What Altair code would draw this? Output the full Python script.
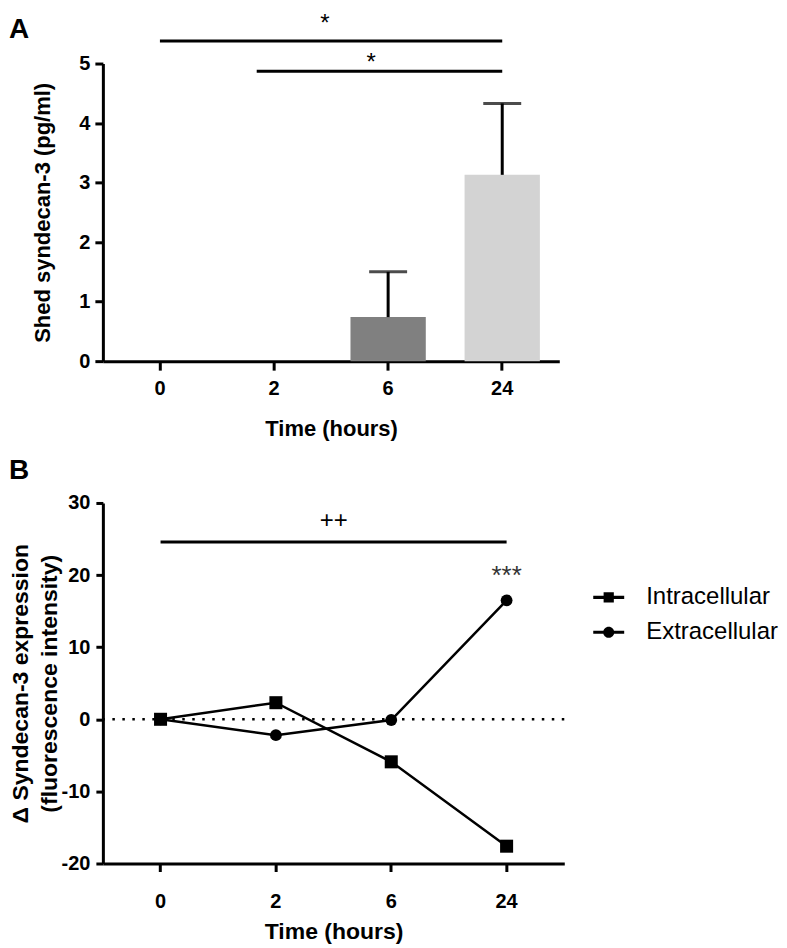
import altair as alt
import pandas as pd

FONT = "Liberation Sans"

# ---------------- data ----------------
times = ["0", "2", "6", "24"]

# Panel A: shed syndecan-3 (pg/ml), mean and mean+SD
shed_mean = [0.0, 0.0, 0.74, 3.13]
shed_upper = [0.0, 0.0, 1.50, 4.33]
bar_colors = ["#808080", "#808080", "#808080", "#d3d3d3"]

# Panel A significance brackets
sigA_start = ["0", "2"]
sigA_end = ["24", "24"]
sigA_y = [5.38, 4.87]
sigA_star_y = [5.87, 5.21]

# Panel B: delta syndecan-3 expression
series = ["Intracellular", "Extracellular"]
intra = [0.0, 2.3, -5.9, -17.6]
extra = [0.0, -2.2, -0.1, 16.5]

sigB_y = 24.6
sigB_plus_y = 26.5
sigB_star_y = 18.7

# ---------------- panel A ----------------
dfA = pd.DataFrame({"time": times, "mean": shed_mean, "upper": shed_upper})
dfA_err = dfA[dfA["upper"] > 0]

ytitleA = "Shed syndecan-3 (pg/ml)"
xA = alt.X("time:N", sort=times,
           scale=alt.Scale(domain=times, paddingInner=0.34, paddingOuter=0.17),
           axis=alt.Axis(title="Time (hours)", labelAngle=0, tickSize=9,
                         labelPadding=8, titlePadding=20))
yscaleA = alt.Scale(domain=[0, 5], nice=False)
yaxisA = alt.Axis(values=[0, 1, 2, 3, 4, 5], labelExpr="'' + datum.value",
                  tickSize=8, labelPadding=5, titlePadding=24)

bars = alt.Chart(dfA).mark_bar().encode(
    x=xA,
    y=alt.Y("mean:Q", scale=yscaleA, axis=yaxisA, title=ytitleA),
    color=alt.Color("time:N", scale=alt.Scale(domain=times, range=bar_colors),
                    legend=None),
)
err = alt.Chart(dfA_err).mark_rule(strokeWidth=3, color="black").encode(
    x=alt.X("time:N", sort=times),
    y=alt.Y("mean:Q", title=ytitleA),
    y2="upper:Q",
)
caps = alt.Chart(dfA_err).mark_tick(thickness=3, size=38, color="black").encode(
    x=alt.X("time:N", sort=times),
    y=alt.Y("upper:Q", title=ytitleA),
)

sigA = pd.DataFrame({"start": sigA_start, "end": sigA_end, "y": sigA_y,
                     "sy": sigA_star_y, "label": ["*", "*"]})
ruleA1 = alt.Chart(sigA.iloc[[0]]).mark_rule(strokeWidth=3, color="black").encode(
    x=alt.X("start:N", sort=times), x2="end:N", y=alt.Y("y:Q", title=ytitleA))
ruleA2 = alt.Chart(sigA.iloc[[1]]).mark_rule(strokeWidth=3, color="black").encode(
    x=alt.X("start:N", sort=times, bandPosition=0.27), x2="end:N",
    y=alt.Y("y:Q", title=ytitleA))
starA1 = alt.Chart(sigA.iloc[[0]].assign(pos="2")).mark_text(
    fontSize=24, font=FONT, baseline="top", dx=51, color="black").encode(
    x=alt.X("pos:N", sort=times), y=alt.Y("sy:Q", title=ytitleA), text="label:N")
starA2 = alt.Chart(sigA.iloc[[1]].assign(pos="6")).mark_text(
    fontSize=24, font=FONT, baseline="top", dx=-17, color="black").encode(
    x=alt.X("pos:N", sort=times), y=alt.Y("sy:Q", title=ytitleA), text="label:N")

chartA = alt.layer(bars, err, caps, ruleA1, ruleA2, starA1, starA2).properties(
    width=457, height=298,
    title=alt.Title("A", anchor="start", frame="group", dx=-94, offset=-32,
                    fontSize=28, fontWeight="bold", font=FONT, color="black"),
)

# ---------------- panel B ----------------
dfB = pd.DataFrame({
    "time": times * 2,
    "series": [s for s in series for _ in times],
    "value": intra + extra,
})
ytitleB = ["\u0394 Syndecan-3 expression", "(fluorescence intensity)"]
xB = alt.X("time:N", sort=times,
           scale=alt.Scale(domain=times, type="band", paddingInner=0, paddingOuter=0),
           axis=alt.Axis(title="Time (hours)", labelAngle=0, tickSize=8,
                         labelPadding=20, titlePadding=9, titleFontSize=23))
yscaleB = alt.Scale(domain=[-20, 30], nice=False)
yaxisB = alt.Axis(values=[-20, -10, 0, 10, 20, 30], labelExpr="'' + datum.value",
                  tickSize=7, labelPadding=6, titlePadding=0,
                  titleLineHeight=29, titleFontSize=23)

zero = alt.Chart(pd.DataFrame({"v": [0]})).mark_rule(
    strokeDash=[2.5, 7.5], strokeWidth=2.5, color="black").encode(
    y=alt.Y("v:Q", scale=yscaleB, axis=yaxisB, title=ytitleB))

lines = alt.Chart(dfB).mark_line(color="black", strokeWidth=2.5).encode(
    x=xB, y=alt.Y("value:Q", title=ytitleB), detail="series:N")

points = alt.Chart(dfB).mark_point(filled=True, color="black", opacity=1).encode(
    x=alt.X("time:N", sort=times),
    y=alt.Y("value:Q", title=ytitleB),
    shape=alt.Shape("series:N", scale=alt.Scale(domain=series, range=["square", "circle"]),
                    legend=None),
    size=alt.Size("series:N", scale=alt.Scale(domain=series, range=[170, 140]),
                  legend=None),
)

legend_paths = [
    "M-1,-0.1H1V0.1H-1Z M-0.33,-0.33H0.33V0.33H-0.33Z",
    "M-1,-0.1H1V0.1H-1Z M-0.36,0A0.36,0.36 0 1,1 0.36,0A0.36,0.36 0 1,1 -0.36,0Z",
]
legend_layer = alt.Chart(dfB).mark_point(filled=True, opacity=0, color="black").encode(
    x=alt.X("time:N", sort=times),
    y=alt.Y("value:Q", title=ytitleB),
    shape=alt.Shape("series:N", sort=series,
                    scale=alt.Scale(domain=series, range=legend_paths),
                    legend=alt.Legend(title=None, orient="none", legendX=491,
                                      legendY=79, labelFontSize=24, labelFont=FONT,
                                      labelFontWeight="normal", labelColor="black",
                                      symbolSize=961, symbolFillColor="black",
                                      symbolStrokeColor="black", symbolStrokeWidth=0,
                                      symbolOpacity=1, labelOffset=22, rowPadding=7,
                                      padding=0)),
)

sigB = pd.DataFrame({"start": ["0"], "end": ["24"], "y": [sigB_y],
                     "py": [sigB_plus_y], "pos": ["2"], "plus": ["++"],
                     "spos": ["24"], "sy": [sigB_star_y], "stars": ["***"]})
ruleB = alt.Chart(sigB).mark_rule(strokeWidth=3, color="black").encode(
    x=alt.X("start:N", sort=times), x2="end:N", y=alt.Y("y:Q", title=ytitleB))
plusB = alt.Chart(sigB).mark_text(fontSize=24, font=FONT, baseline="alphabetic",
                                  dx=58, color="black").encode(
    x=alt.X("pos:N", sort=times), y=alt.Y("py:Q", title=ytitleB), text="plus:N")
starB = alt.Chart(sigB).mark_text(fontSize=26, font=FONT, baseline="alphabetic",
                                  color="#333333").encode(
    x=alt.X("spos:N", sort=times), y=alt.Y("sy:Q", title=ytitleB), text="stars:N")

chartB = alt.layer(zero, lines, points, legend_layer, ruleB, plusB, starB).resolve_scale(
    shape="independent", size="independent"
).properties(
    width=462, height=361,
    title=alt.Title("B", anchor="start", frame="group", dx=-94, offset=8,
                    fontSize=28, fontWeight="bold", font=FONT, color="black"),
)

chart = alt.vconcat(chartA, chartB, spacing=18).properties(
    padding={"top": 3, "left": 1, "right": 0, "bottom": 0}
).configure_view(stroke=None).configure_axis(
    grid=False,
    domainColor="black", domainWidth=3,
    tickColor="black", tickWidth=3,
    labelFont=FONT, labelFontWeight="bold", labelFontSize=20, labelColor="black",
    titleFont=FONT, titleFontWeight="bold", titleFontSize=22, titleColor="black",
)

chart.save("out.html", embed_options={"renderer": "svg", "actions": False})
